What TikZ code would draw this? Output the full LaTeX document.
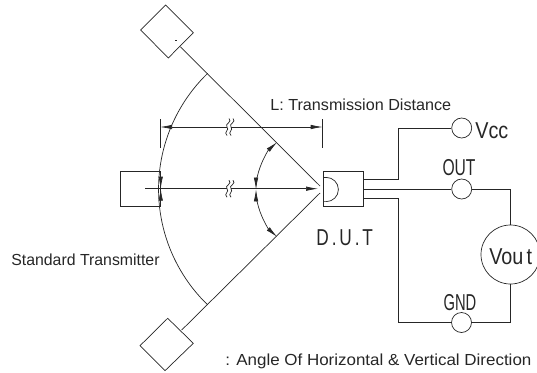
\documentclass[tikz,border=0pt]{standalone}
\usepackage{fontspec}
\setmainfont{Liberation Sans}
\usetikzlibrary{arrows.meta}
\tikzset{
  pin/.style={circle, draw, fill=white, minimum size=20pt, inner sep=0pt},
  lbl/.style={inner sep=0pt, anchor=base west, font=\fontsize{16}{18}\selectfont},
  cad/.style={inner sep=0pt, font=\fontsize{23}{25}\selectfont},
  tip/.style={-{Latex[length=12pt,width=4.5pt]}},
}
\begin{document}
\begin{tikzpicture}[x=1pt, y=-1pt, line width=0.7pt, color=black!85]
\useasboundingbox (0,0) rectangle (537,372);
% transmitters
\coordinate (dia0) at (165.7,5);
\coordinate (dia1) at (140.7,30);
\coordinate (dia2) at (168.3,58);
\coordinate (dia3) at (193.3,32.7);
\draw (dia0) -- (dia1) -- (dia2) -- (dia3) -- cycle;
\fill (175,39.5) rectangle (177,40.5);
\coordinate (dib0) at (167.7,318.3);
\coordinate (dib1) at (193.3,343.3);
\coordinate (dib2) at (165,370.7);
\coordinate (dib3) at (140,345.7);
\draw (dib0) -- (dib1) -- (dib2) -- (dib3) -- cycle;
\draw (120.7,171) rectangle (160.7,206.7);
% axes
\coordinate (topa) at (180.3,46.7);
\coordinate (topb) at (320,186);
\coordinate (bota) at (181.7,330);
\coordinate (botb) at (320,193);
\draw (topa) -- (topb);
\draw (bota) -- (botb);
% arcs
\draw (207.7,73.3) arc[start angle=226, end angle=134, radius=161];
\draw[tip] (160.7,173) -- (160.7,188.7);
\draw[tip] (160.7,204) -- (160.7,188.7);
\draw[tip] (258.5,172) arc[start angle=196, end angle=228, radius=64];
\draw[tip] (258.5,172) arc[start angle=196, end angle=180, radius=64];
\draw[tip] (258.5,207) arc[start angle=164, end angle=132, radius=64];
\draw[tip] (258.5,207) arc[start angle=164, end angle=180, radius=64];
% distance lines
\coordinate (tl) at (160,119);
\coordinate (tr) at (322.7,119);
\draw (tl) -- ++(0,29);
\draw (tr) -- ++(0,29);
\draw[tip] (229,127) -- (160,127);
\draw[tip] (229,127) -- (322.7,127);
\draw[tip] (145,188.7) -- (318,188.7);
\foreach \yb in {127,188.7}{
  \fill[white] (227,\yb-4) rectangle (231,\yb+4);
  \draw (229,\yb-8.5) .. controls (233,\yb-5) and (224,\yb-3) .. (227,\yb) .. controls (230,\yb+3) and (223,\yb+5) .. (227,\yb+8.5);
  \draw (233,\yb-8.5) .. controls (237,\yb-5) and (228,\yb-3) .. (231,\yb) .. controls (234,\yb+3) and (227,\yb+5) .. (231,\yb+8.5);
}
% D.U.T
\draw (323.3,171) rectangle (363.3,206.7);
\draw (323.3,177.4) -- (326.3,177.4) arc[start angle=-90, end angle=90, radius=12.1] -- (323.3,201.6);
% pins
\node[pin] (vcc) at (461.7,128){};
\node[pin] (out) at (461.7,189){};
\node[pin] (gnd) at (461.5,322.5){};
\node[circle, draw, minimum size=59pt, inner sep=0pt] (vout) at (510.5,254.5){};
\coordinate (leada) at (363.3,179.3);
\coordinate (leadb) at (363.3,189);
\coordinate (leadc) at (363.3,198.3);
\draw (leada) -| (398.3,128) -- (vcc);
\draw (leadb) -- (out);
\draw (leadc) -| (398.3,322.5) -- (gnd);
\draw (out) -| (vout);
\draw (gnd) -| (vout);
% labels
\node[lbl, xscale=1.01] (ltxt) at (270,110.7) {L: Transmission Distance};
\node[lbl, xscale=0.99] (stxt) at (11,265) {Standard Transmitter};
\node[lbl, xscale=1.06] (atxt) at (225,365.7) {: Angle Of Horizontal \& Vertical Direction};
\node[cad, anchor=west, xscale=0.86] (vcctxt) at (475,131) {Vcc};
\node[cad, xscale=0.68] (outtxt) at (459,167.7) {OUT};
\node[cad, xscale=0.64] (gndtxt) at (460,303) {GND};
\node[cad, xscale=0.75] (duttxt) at (344.7,237.7) {D\,.\,U\,.\,T};
\node[cad, xscale=0.86] (vouttxt) at (510.7,256.7) {Vou\,t};
\end{tikzpicture}
\end{document}
